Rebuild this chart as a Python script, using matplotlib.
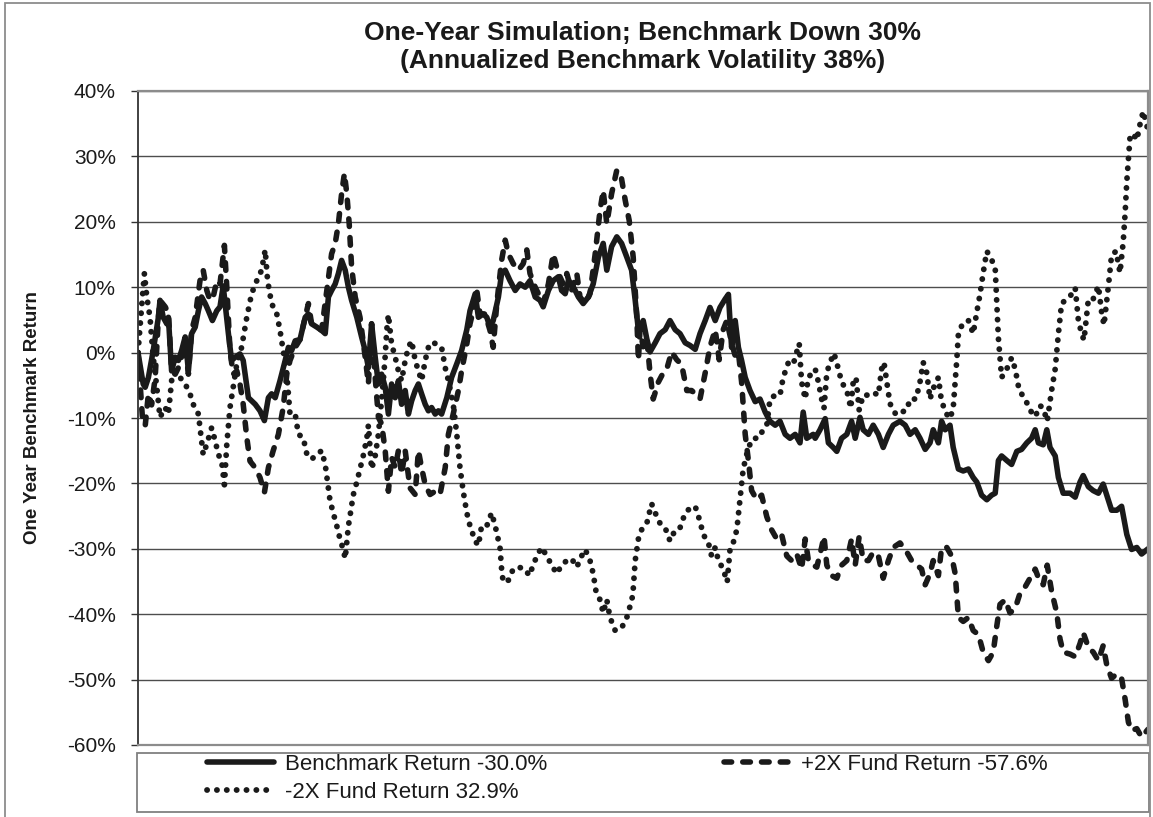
import matplotlib
matplotlib.use("Agg")
import matplotlib.pyplot as plt
from matplotlib.patches import Rectangle

# One-year simulation, values in % (x = trading day)
bench_day = [0, 1.3, 1.8, 2.6, 3.8, 5.1, 5.5, 6.3, 7.2, 7.6, 8.4, 9.3, 10.1, 10.9, 11.8, 12.6, 13.4, 14.3, 15.1, 15.9,
             16.8, 17.6, 18.6, 19.7, 20.5, 21.3, 22.6, 23.4, 24.3, 25.5, 26.3, 27.6, 29.3, 30.5, 31.6, 32.6, 33.4, 34.3,
             35.5, 36.8, 37.6, 38.4, 39.3, 40.5, 41.8, 42.6, 43.4, 44.7, 45.9, 46.8, 47.6, 48.4, 49.3, 50.1, 50.9, 51.8,
             52.6, 53.4, 54.7, 55.9, 56.8, 57.6, 58.4, 59.3, 60.1, 60.9, 61.8, 62.6, 63.4, 64.3, 65.1, 65.9, 66.8, 67.6,
             68.4, 69.3, 70.1, 70.9, 71.8, 72.6, 73.4, 74.3, 75.1, 75.9, 77.2, 78.4, 79.7, 80.9, 82.2, 83, 84.3, 85.1,
             86.3, 87.2, 88, 88.8, 90.1, 90.9, 91.8, 93, 94.3, 95.5, 96.8, 98, 99.3, 100.5, 101.3, 102.6, 103.8, 105.1,
             105.9, 106.8, 107.6, 108.4, 109.3, 110.1, 111.3, 112.6, 113.8, 115.1, 116.3, 117.2, 118.4, 119.7, 120.9,
             122.2, 123.4, 124.3, 125.1, 125.5, 126.3, 127.2, 128, 129.3, 130.5, 131.8, 133, 134.3, 135.5, 136.8, 138,
             139.3, 140.5, 141.8, 143, 144.3, 145.5, 146.8, 147.6, 148.4, 149.3, 150.1, 150.9, 151.8, 153, 154.3, 155.5,
             156.8, 158, 159.3, 160.5, 161.8, 163, 164.3, 165.5, 166.3, 167.2, 168.8, 169.3, 170.5, 171.8, 172.6, 173.8,
             174.7, 175.9, 177.2, 178.4, 179.3, 180.5, 181.3, 182.6, 183.8, 185.1, 186.3, 187.6, 188.8, 190.5, 191.8,
             193, 194.3, 195.5, 196.8, 198, 198.8, 200.1, 200.9, 201.8, 203, 203.8, 205.1, 206.3, 207.6, 208.8, 209.7,
             210.9, 212.2, 213.4, 214.3, 215.1, 215.9, 217.2, 218.4, 219.7, 220.9, 222.2, 223.4, 224.3, 225.1, 226.3,
             227.2, 228, 229.3, 230.1, 231.3, 233, 234.3, 235.5, 236.3, 237.6, 238.8, 240.1, 241.3, 242.2, 243.4, 244.7,
             245.9, 247.2, 248.4, 249.7, 250.9, 252.5]
bench_ret = [0, -4.8, -5.3, -3.8, 0.3, 5.4, 8.0, 5.4, 4.4, 5.4, -2.8, -0.7, -1.2, 0.3, 2.4, -2.8, 2.9, 3.9, 6.4, 8.5,
             7.5, 6.4, 4.9, 6.4, 7.0, 10.2, 2.9, -1.2, -0.7, -0.2, -1.2, -6.9, -7.9, -8.9, -10.4, -6.9, -6.3, -6.9,
             -4.3, -1.2, 0.8, 0.3, 1.8, 2.0, 5.4, 5.9, 4.4, 3.9, 3.4, 2.9, 8.5, 9.5, 10.5, 12.1, 14.1, 12.6,
             10.0, 8.0, 5.4, 2.4, 0.3, -2.3, 4.4, -0.7, -4.8, -3.3, -5.3, -9.4, -4.8, -6.9, -4.3, -7.9, -5.8, -9.4,
             -7.4, -5.8, -4.8, -6.3, -7.9, -8.9, -8.4, -9.4, -8.9, -9.4, -6.9, -3.8, -1.7, 0.3, 3.5, 6.4, 9.0, 5.4,
             5.9, 5.4, 3.9, 4.9, 8.5, 12.1, 12.6, 11.0, 9.5, 10.5, 10.0, 11.0, 8.5, 8.0, 7.0, 9.5, 11.0, 11.6,
             9.5, 9.0, 11.0, 10.5, 9.5, 8.5, 7.5, 8.5, 10.5, 14.6, 16.7, 12.6, 16.2, 17.7, 16.7,
             14.6, 12.6, 8.0, 3.4, 3.5, 4.9, 2.1, 0.1, 1.5, 2.9, 3.5, 4.9, 3.5, 2.9, 1.5, 1.1,
             0.5, 2.9, 4.9, 6.9, 4.9, 6.9, 8.2, 8.9, 0.8, 4.9, 0.8, -1.2, -3.8, -5.8, -7.5, -7.1, -9.1,
             -10.5, -11.1, -10.5, -12.5, -13.1, -12.5, -13.8, -9.1, -13.1, -12.5, -13.1, -11.8, -10.1, -13.8, -14.5,
             -15.1, -13.1, -12.5, -10.5, -13.1, -9.9, -11.8, -12.5, -11.1, -12.5, -14.5, -12.5, -11.1, -10.5, -11.1,
             -12.5, -11.8, -13.1, -14.8, -13.8, -11.8, -13.8, -10.5, -11.8, -11.1, -14.5, -17.8, -18.1, -17.8, -19.1, -19.8,
             -21.8, -22.5, -21.8, -21.5, -16.5, -15.8, -16.5, -17.1, -15.1, -14.8, -13.8, -13.1, -11.8, -13.8, -14.1,
             -11.8, -14.5, -15.8, -19.1, -21.5, -21.5, -22.1, -19.8, -18.8, -20.5, -21.1, -21.5, -20.1, -21.8, -24.1, -24.1,
             -23.5, -27.8, -30.1, -29.8, -30.8, -30.0]

long_day = [0, 1.1, 1.8, 2.6, 3.4, 4.3, 5.1, 5.5, 6.8, 7.6, 8.4, 9.3, 10.1, 11.8, 12.6, 13.4, 14.3, 15.5, 16.3, 17.2,
            18, 18.8, 19.7, 20.5, 21.6, 22.2, 23, 23.8, 24.7, 25.5, 26.3, 27.2, 28, 29.3, 30.5, 31.6, 32.6, 33.8, 35.1,
            36.3, 37.2, 38, 39.3, 40.5, 41.8, 42.6, 43.4, 44.7, 45.9, 47.2, 48.4, 49.3, 50.1, 50.9, 51.6, 52.2, 52.8,
            53.4, 54.3, 55.5, 56.8, 57.6, 58.4, 59.3, 60.1, 60.9, 61.8, 62.6, 63.4, 64.3, 65.1, 65.9, 66.8, 68, 69.3,
            70.1, 70.9, 71.8, 73, 74.3, 75.5, 76.8, 77.6, 78.8, 80.1, 80.9, 82.2, 83, 83.8, 84.7, 85.5, 86.8, 88, 88.8,
            89.7, 90.9, 91.8, 92.6, 93.8, 95.1, 96.3, 97.2, 98, 99.3, 100.5, 101.3, 102.6, 103.8, 105.1, 106.3, 107.2,
            108.4, 109.7, 110.5, 111.8, 113, 114.3, 115.5, 116.3, 117.2, 118.4, 119.7, 120.8, 121.8, 122.8, 123.8,
            124.7, 125.1, 125.5, 126.3, 127.2, 128, 128.8, 130.1, 131.3, 132.2, 133.4, 134.7, 135.9, 137.2, 138.4,
            139.7, 140.5, 141.8, 143, 144.3, 145.3, 146.3, 147.2, 148.4, 149.3, 150.1, 150.9, 151.8, 152.6, 153.4,
            154.7, 155.9, 157.2, 158.4, 159.7, 160.9, 162.2, 163.4, 164.7, 165.9, 166.8, 167.6, 168.8, 169.7, 170.9,
            171.5, 172.2, 173.4, 174.7, 175.9, 177.2, 178.4, 179.3, 180.3, 181.3, 182.6, 183.8, 185.1, 186.3, 187.6,
            188.8, 190.5, 192.2, 193.4, 194.7, 195.9, 196.8, 198, 198.8, 200.1, 200.9, 202.2, 203.4, 204.3, 205.1,
            206.3, 207.6, 208.8, 210.1, 211.3, 212.6, 213.8, 214.7, 215.5, 216.8, 218, 219.3, 220.5, 221.8, 223, 224.3,
            225.5, 226.3, 227.3, 228.4, 229.7, 230.5, 231.3, 233, 234.3, 235.5, 236.3, 237.6, 238.8, 240.1, 241.3,
            242.2, 243.4, 244.7, 245.9, 246.8, 247.6, 248.4, 249.7, 250.9, 252.5]
long_ret = [0, -9.9, -11.2, -6.3, -8.0, -3.8, 5.4, 8.0, 7.0, 6.0, -2.8, -3.3, -2.3, 1.3, -3.3, 3.4, 5.4, 11.0, 12.6,
            9.5, 8.0, 8.5, 11.0, 10.5, 16.4, 10.0, 0.3, -3.3, -2.8, -4.8, -7.9, -13.0, -16.6, -17.6, -19.1, -21.4, -17.6,
            -15.0, -12.5, -8.4, -3.3, -1.2, 0.8, 2.0, 5.4, 7.5, 4.4, 3.9, 3.4, 9.5, 15.1, 16.7, 19.7, 24.3, 27.4, 24.3,
            19.7, 13.1, 8.5, 5.4, -0.7, -4.8, 4.4, -3.8, -9.9, -10.9, -15.0, -21.2, -16.0, -17.6, -15.0, -18.6, -15.0,
            -20.7, -21.7, -15.0, -17.6, -20.2, -21.7, -21.2, -21.7, -17.6, -12.5, -9.4, -5.8, -2.8, 1.3, 4.4, 6.4, 9.5,
            5.9, 5.9, 3.4, 0.8, 7.5, 14.1, 17.2, 15.1, 13.6, 12.6, 13.6, 15.7, 12.1, 10.0, 8.5, 7.5, 10.5, 15.1, 12.1,
            10.5, 12.1, 9.5, 12.1, 8.5, 7.5, 9.0, 15.1, 21.7, 24.8, 19.7, 24.3, 27.9, 26.9, 23.3, 20.2, 14.6, 5.4,
            -1.2, 3.5, 0.9, 2.2, -3.1, -7.1, -4.5, -3.1, -2.5, 0.1, -1.1, -1.8, -5.8, -5.8, -6.5, -7.1, -3.1, 0.9, 3.5,
            -1.1, 3.5, 4.9, 1.5, -0.5, 0.1, -4.5, -12.5, -16.5, -21.1, -22.5, -21.8, -25.1, -27.1, -28.5, -27.8, -31.1,
            -31.8, -30.8, -33.1, -28.5, -31.8, -32.5, -32.8, -29.8, -28.1, -32.5, -34.1, -34.5, -32.5, -31.8, -28.5,
            -32.5, -28.1, -31.8, -31.8, -30.5, -31.1, -34.5, -31.8, -29.8, -29.1, -30.5, -31.8, -32.5, -33.1, -35.5,
            -33.8, -31.8, -34.1, -29.8, -29.8, -31.1, -33.8, -40.5, -41.1, -40.5, -42.5, -43.1, -45.8, -47.1, -45.8,
            -41.8, -38.5, -37.8, -39.8, -39.1, -36.8, -35.8, -34.5, -33.1, -35.1, -35.5, -32.5, -36.5, -39.8, -43.8,
            -45.8, -46.1, -46.5, -44.5, -42.8, -45.1, -45.8, -47.1, -44.8, -47.8, -49.8, -49.1, -49.8, -53.1, -56.5,
            -57.8, -57.5, -58.8, -57.6]

short_day = [0, 1.1, 1.6, 2.2, 3, 3.8, 4.7, 5.5, 6.8, 7.6, 8.4, 9.3, 10.5, 11.8, 13, 13.8, 15.1, 15.5, 16.3, 17.2,
             18.4, 19.3, 20.1, 20.9, 21.6, 22.2, 23, 23.8, 24.7, 25.9, 27.2, 28.4, 29.7, 30.9, 31.8, 32.4, 33.4, 34.7,
             35.5, 36.3, 37.2, 38, 39.3, 40.1, 41.3, 42.2, 43.4, 44.7, 45.9, 46.8, 47.6, 48, 48.8, 49.7, 50.5, 51.3,
             51.8, 52.2, 52.6, 53, 53.8, 54.7, 55.5, 56.3, 57.2, 57.6, 58, 58.4, 59.3, 60.1, 60.5, 61.3, 61.8, 62.2,
             62.6, 63.4, 64.3, 65.1, 65.9, 66.8, 67.6, 68.4, 69.3, 70.1, 70.9, 71.8, 72.6, 73.4, 74.7, 75.9, 76.8,
             77.6, 78.8, 79.7, 80.5, 81.3, 82.2, 83, 84.3, 85.1, 85.9, 87.2, 88.4, 89.3, 90.5, 90.9, 91.3, 92.6, 93.8,
             95.1, 96.8, 97.8, 98.8, 99.7, 100.9, 102.2, 103.4, 104.7, 105.9, 107.2, 108.4, 109.7, 110.9, 111.8, 113,
             113.8, 114.5, 115.5, 116.3, 117.2, 118, 119.3, 120.9, 122.2, 123, 123.7, 124.3, 125.1, 125.9, 127.2,
             128.4, 129.3, 130.5, 131.8, 133, 134.3, 135.5, 136.8, 138, 139.3, 140.5, 141.3, 142.6, 143.4, 144.3,
             145.1, 146.3, 147.3, 148, 148.8, 149.7, 150.5, 151.3, 152.6, 153.8, 155.1, 156.3, 157.2, 158, 159.3,
             160.5, 161.3, 162.6, 163.8, 165.3, 165.9, 166.8, 167.6, 169.3, 170.1, 170.9, 171.5, 172.2, 173, 174,
             175.1, 175.9, 177.2, 178.2, 178.8, 179.5, 180.3, 181.3, 182.6, 183.8, 185.1, 185.9, 186.5, 187.2, 188,
             189.5, 190.9, 192.2, 193, 194.5, 195.5, 196.3, 197.2, 198, 198.8, 200.1, 200.8, 201.8, 203, 203.8, 204.3,
             204.7, 205.1, 206.2, 207.6, 208.8, 209.7, 210.5, 211.3, 212.2, 213.2, 214.3, 214.7, 215.1, 215.9, 217.2,
             218.4, 219.3, 220.3, 221.8, 223, 224.3, 225.5, 226.3, 227.3, 228.4, 229.3, 230.1, 230.9, 232.2, 233.4,
             234.3, 235.1, 235.9, 236.5, 237.6, 238.8, 240.1, 240.9, 241.5, 242.6, 243.4, 244.5, 245.5, 246.3, 246.8,
             247.2, 247.6, 248, 248.8, 249.7, 250.5, 251.3, 252.5]
short_ret = [0, 8.5, 12.1, 8.5, 5.4, -0.7, -5.3, -9.9, -8.4, -9.4, -4.3, -2.8, -3.8, -4.8, -6.3, -7.9, -9.4, -11.5,
             -15.6, -14.0, -11.5, -13.5, -15.6, -16.6, -20.2, -14.0, -8.4, -5.3, -1.7, 0.8, 5.4, 9.0, 11.0, 12.6, 15.7,
             11.0, 7.5, 5.9, 3.4, 0.3, -3.3, -9.4, -9.4, -12.5, -13.0, -15.5, -16.3, -15.6, -15.0, -17.1, -20.7, -22.6,
             -24.5, -26.5, -28.5, -30.1, -31.5, -29.0, -26.5, -25.0, -21.8, -19.8, -17.8, -15.8, -13.1, -11.1, -14.5,
             -17.8, -15.8, -12.5, -9.8, -4.5, -0.5, 3.5, 5.8, 1.3, -0.7, -2.8, -4.3, -1.2, 0.8, 1.8, -1.2, -2.8, -4.3,
             -1.2, 0.8, 1.6, 1.3, 0.8, -2.3, -4.3, -7.9, -12.5, -17.6, -21.2, -24.5, -26.5, -28.8, -29.5, -26.5, -26.5,
             -24.5, -26.5, -29.8, -33.1, -35.1, -34.8, -33.1, -32.8, -33.1, -34.1, -32.5, -31.1, -29.8, -31.1, -32.5,
             -33.8, -32.5, -31.8, -31.5, -32.8, -31.1, -30.1, -31.8, -33.8, -36.5, -37.8, -39.8, -37.8, -40.5, -42.5,
             -42.1, -40.5, -38.8, -37.1, -31.8, -28.5, -27.1, -26.1, -23.1, -24.5, -26.1, -26.8, -28.8, -27.1, -26.8,
             -24.5, -23.8, -23.5, -25.8, -27.8, -29.1, -31.1, -29.8, -31.8, -33.1, -35.1, -30.1, -29.1, -27.1, -22.5,
             -17.8, -14.5, -13.1, -13.1, -11.8, -11.1, -7.1, -6.5, -6.5, -3.8, -1.5, -1.8, 1.4, -4.5, -7.1, -3.8, -2.5,
             -4.5, -7.1, -8.5, -3.1, -1.5, -0.1, -2.5, -4.5, -5.8, -8.5, -4.5, -3.8, -8.8, -6.5, -6.5, -6.1, -6.5, -2.5,
             -1.5, -4.5, -7.8, -9.5, -9.1, -8.8, -7.1, -7.1, -4.5, -1.5, -3.1, -7.1, -5.5, -3.8, -7.1, -9.1, -10.1, -8.5,
             -4.5, -1.1, 2.9, 4.5, 4.9, 2.9, 6.2, 8.9, 12.2, 15.5, 14.5, 12.9, 7.5, 2.2, -3.8, -2.5, -0.8, -2.5, -5.8,
             -7.1, -8.8, -9.8, -8.1, -8.5, -10.5, -5.8, -2.5, 2.9, 7.5, 8.2, 8.9, 9.9, 4.9, 2.9, 1.9, 8.2, 8.2, 10.2,
             6.2, 4.2, 10.2, 14.9, 15.5, 12.2, 16.9, 21.5, 26.2, 29.5, 32.9, 33.5, 32.5, 34.9, 36.9, 34.0]

y_ticks = list(range(-60, 41, 10))
labels = ["Benchmark Return -30.0%", "+2X Fund Return -57.6%", "-2X Fund Return 32.9%"]
title = "One-Year Simulation; Benchmark Down 30%\n(Annualized Benchmark Volatility 38%)"
y_title = "One Year Benchmark Return"

plt.rcParams['font.family'] = ['Liberation Sans', 'DejaVu Sans']
plt.rcParams['lines.scale_dashes'] = False

W, H = 1153, 817
fig = plt.figure(figsize=(W / 100, H / 100), dpi=100)
ax = fig.add_axes([138 / W, 1 - 745 / H, 1010 / W, 654 / H])

ln_b, = ax.plot(bench_day, bench_ret, color='#1a1a1a', lw=4.0, solid_joinstyle='round',
                solid_capstyle='round', label=labels[0])
ln_l, = ax.plot(long_day, long_ret, color='#1a1a1a', lw=4.0, dashes=(5.5, 8.0),
                dash_capstyle='round', dash_joinstyle='round', label=labels[1])
ln_s, = ax.plot(short_day, short_ret, color='#1a1a1a', lw=4.2, dashes=(0.1, 7.0),
                dash_capstyle='round', dash_joinstyle='round', label=labels[2])

ax.set_xlim(0, 252.5)
ax.set_ylim(-60, 40)
ax.set_xticks([])
ax.set_yticks(y_ticks)
ax.set_yticklabels([f"{v}%" for v in y_ticks])
ax.tick_params(axis='y', length=5, width=1, color='#333333', pad=11, labelsize=15, labelcolor='#1a1a1a')
ax.yaxis.grid(True, color='#4d4d4d', lw=1.0)
ax.set_axisbelow(True)
for side in ['top', 'right', 'bottom']:
    ax.spines[side].set_color('#8c8c8c')
    ax.spines[side].set_linewidth(1.6)
ax.spines['left'].set_color('#333333')
ax.spines['left'].set_linewidth(1.3)

fig.text(643 / W, 1 - 47 / H, title, ha='center', va='center', fontsize=19, fontweight='bold',
         color='#1a1a1a', linespacing=1.2)
fig.text(33 / W, 1 - 418 / H, y_title, rotation=90, ha='center', va='center', fontsize=13.5,
         fontweight='bold', color='#1a1a1a')

# legend box and outer frame
fig.patches.append(Rectangle((137 / W, 1 - 812 / H), 1012 / W, 59 / H, transform=fig.transFigure,
                             fill=False, edgecolor='#808080', lw=1.3))
fig.patches.append(Rectangle((5 / W, -0.05), 1145 / W, 1.05 - 3 / H, transform=fig.transFigure,
                             fill=False, edgecolor='#8c8c8c', lw=1.3))
fig.legend(handles=[ln_b, ln_s, ln_l], ncol=2, loc='upper left', bbox_to_anchor=(207 / W, 1 - 754 / H),
           frameon=False, fontsize=16, handlelength=3.0, handletextpad=0.5, columnspacing=7.95,
           borderpad=0, borderaxespad=0, labelspacing=0.32, labelcolor='#1a1a1a')

fig.savefig("out.png", dpi=100)
